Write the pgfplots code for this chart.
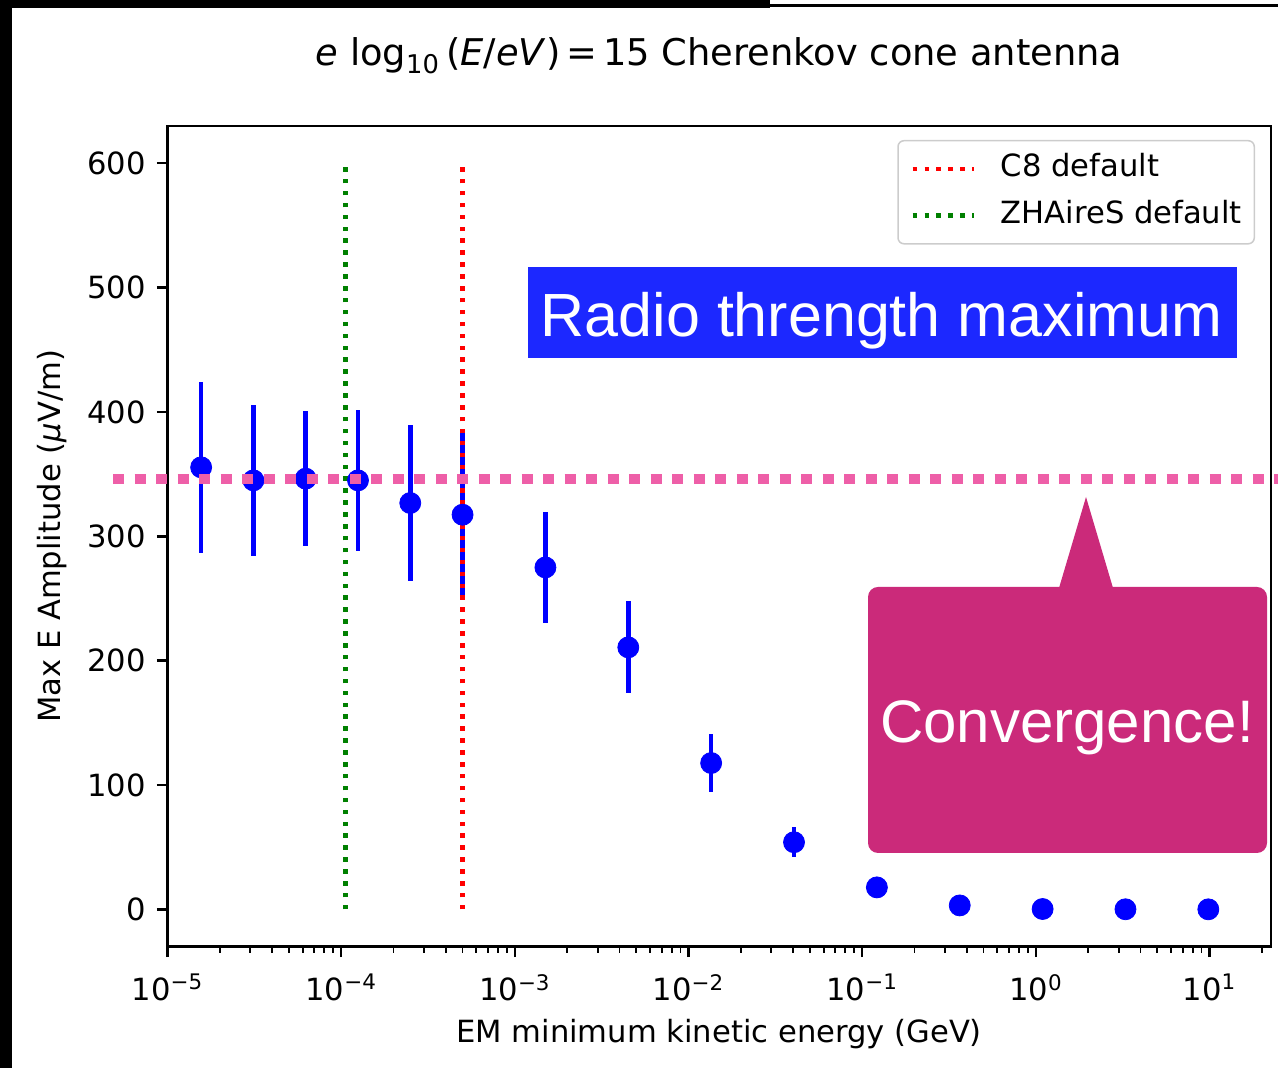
\documentclass[border=0pt]{standalone}
\usepackage{fontspec}
\setmainfont{DejaVu Sans}
\newfontfamily\helv{Liberation Sans}
\usepackage{pgfplots}
\usepackage{pgfplotstable}
\pgfplotsset{compat=1.18}

\definecolor{mplblue}{RGB}{0,0,255}
\definecolor{mplgreen}{RGB}{0,128,0}
\definecolor{pinkline}{RGB}{238,95,168}
\definecolor{boxblue}{RGB}{28,40,255}
\definecolor{callout}{RGB}{203,42,122}
\definecolor{legframe}{RGB}{204,204,204}

% Max E amplitude versus EM minimum kinetic energy cut
\pgfplotstableread{
x          y      err
1.5625e-5  355.5  68.5
3.125e-5   345.0  61.0
6.25e-5    346.4  54.0
1.25e-4    345.0  56.8
2.5e-4     326.8  62.5
5e-4       317.4  67.5
1.5e-3     275.0  44.5
4.5e-3     210.7  37.0
1.35e-2    117.7  23.0
4.05e-2     54.0  12.0
0.1215      17.7   2.5
0.3645       3.2   0.5
1.0935       0.3   0.0
3.2805       0.1   0.0
9.8415       0.05  0.0
}\amplitude

\newcommand\lbl{\fontsize{15.3}{18}\selectfont}

\begin{document}
\begin{tikzpicture}
\useasboundingbox (0,0) rectangle (639pt,534pt);
\begin{axis}[
  at={(83.75pt,60.65pt)}, anchor=south west,
  scale only axis, width=551.6pt, height=410.35pt,
  xmode=log, xmin=1e-5, xmax=22.5,
  ymin=-30, ymax=630,
  xtick={1e-5,1e-4,1e-3,1e-2,1e-1,1,10},
  xticklabels={10\textsuperscript{−5},10\textsuperscript{−4},10\textsuperscript{−3},10\textsuperscript{−2},10\textsuperscript{−1},10\textsuperscript{0},10\textsuperscript{1}},
  extra x ticks={2e-5,3e-5,4e-5,5e-5,6e-5,7e-5,8e-5,9e-5,
    2e-4,3e-4,4e-4,5e-4,6e-4,7e-4,8e-4,9e-4,
    2e-3,3e-3,4e-3,5e-3,6e-3,7e-3,8e-3,9e-3,
    2e-2,3e-2,4e-2,5e-2,6e-2,7e-2,8e-2,9e-2,
    0.2,0.3,0.4,0.5,0.6,0.7,0.8,0.9,
    2,3,4,5,6,7,8,9,20},
  extra x tick labels={},
  extra x tick style={major tick length=3pt,
    every major tick/.append style={line width=0.9pt, black}},
  ytick={0,100,200,300,400,500,600},
  /pgf/number format/assume math mode=true,
  tick label style={font=\lbl},
  xticklabel style={yshift=-5pt},
  yticklabel style={xshift=-2pt},
  xtick pos=bottom, ytick pos=left,
  tick align=outside,
  major tick length=5.25pt,
  every major tick/.append style={line width=1.2pt, black},
  axis line style={line width=1.2pt},
  title={\textit{e} log\textsubscript{10}\,(\textit{E}/\textit{eV})\,=\,15 Cherenkov cone antenna},
  title style={font=\fontsize{18.4}{22}\selectfont, at={(axis description cs:0.5,1.0585)}, anchor=base},
  xlabel={EM minimum kinetic energy (GeV)},
  ylabel={Max E Amplitude (\textit{μ}V/m)},
  xlabel style={font=\lbl, at={(axis description cs:0.5,-0.107)}, anchor=center},
  ylabel style={font=\lbl, at={(axis description cs:-0.105,0.5)}, anchor=center, rotate=0},
  legend image code/.code={\draw[#1] (0pt,0pt) -- (30.5pt,0pt);},
  legend cell align=left,
  legend style={
    at={(axis description cs:0.9858,0.983)}, anchor=north east,
    draw=legframe, line width=0.75pt, rounded corners=3pt,
    fill=white, fill opacity=0.8, text opacity=1,
    font=\lbl, inner xsep=6.2pt, inner ysep=6.6pt,
    nodes={inner sep=0pt, text height=11.5pt, text depth=3.5pt},
    row sep=8.35pt,
    /tikz/every odd column/.append style={column sep=12.5pt},
  },
]
% error bars only
\addplot[forget plot, draw=none, mark=none,
  error bars/.cd, y dir=both, y explicit, error mark=none,
  error bar style={draw=mplblue, line width=2.25pt, solid}]
  table[x=x, y=y, y error=err] {\amplitude};
% default cut values
\addplot[red, line width=2.25pt, dash pattern=on 2.25pt off 3.7pt]
  coordinates {(5e-4,0) (5e-4,600)};
\addlegendentry{C8 default}
\addplot[mplgreen, line width=2.25pt, dash pattern=on 2.25pt off 3.7pt]
  coordinates {(1.06e-4,0) (1.06e-4,600)};
\addlegendentry{ZHAireS default}
% markers
\addplot[forget plot, only marks, mark=*, mark size=5.25pt, mplblue]
  table[x=x, y=y] {\amplitude};
\end{axis}

\begin{scope}[shift={(0pt,534pt)}, x=0.5pt, y=-0.5pt]
  % frame pieces
  \fill[black] (0,0) rectangle (11.5,1068);
  \fill[black] (0,0) rectangle (770,7.7);
  \fill[black] (770,4.5) rectangle (1278,7.5);
  % plateau level
  \draw[pinkline, line width=5pt, dash pattern=on 5.5pt off 5.25pt] (113,479) -- (1284,479);
  % label box
  \fill[boxblue] (528,267) rectangle (1237,358);
  \node[anchor=base, white, inner sep=0pt, font=\helv\fontsize{30.5}{36}\selectfont] at (881.5,337) {Radio thrength maximum};
  % callout
  \fill[callout, rounded corners=5pt] (868,587) rectangle (1267,853);
  \fill[callout] (1059,588) -- (1086,497) -- (1113,588) -- cycle;
  \node[anchor=base, white, inner sep=0pt, font=\helv\fontsize{30}{36}\selectfont] at (1067,743) {Convergence!};
\end{scope}
\end{tikzpicture}
\end{document}
